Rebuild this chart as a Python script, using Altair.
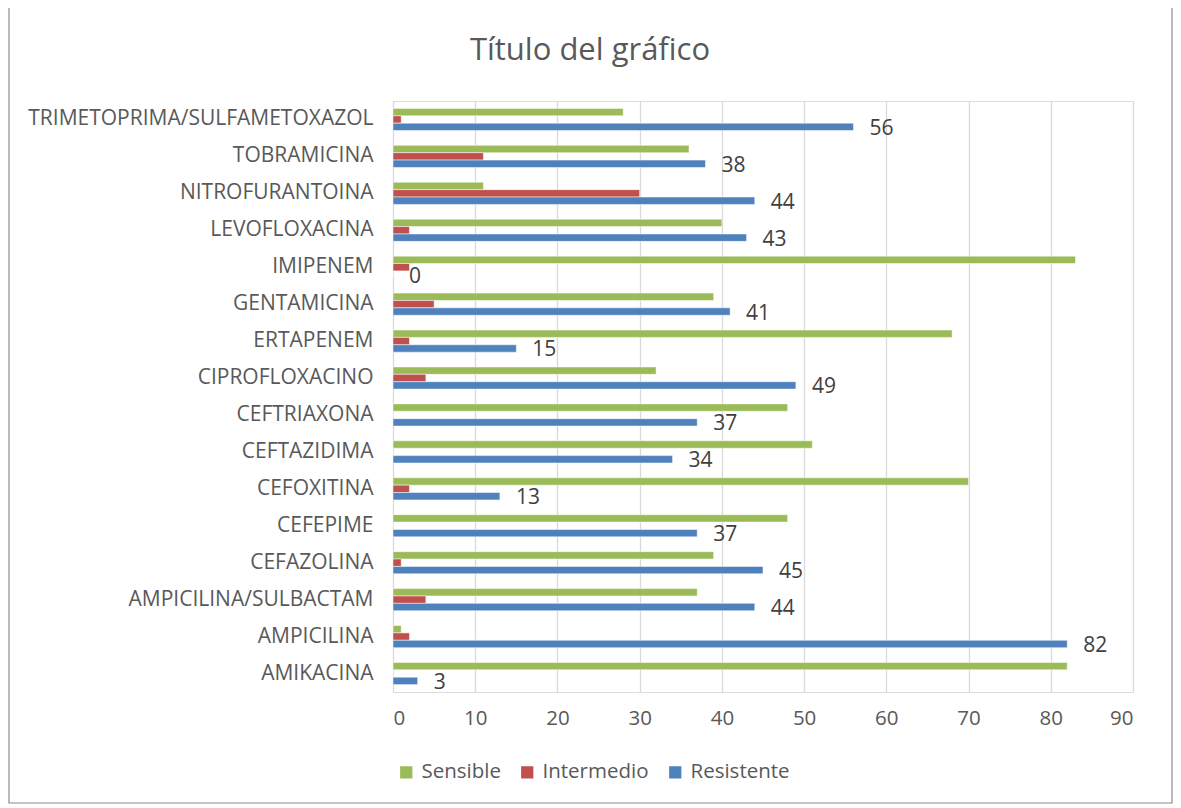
import altair as alt
import pandas as pd

categories = ["TRIMETOPRIMA/SULFAMETOXAZOL", "TOBRAMICINA", "NITROFURANTOINA", "LEVOFLOXACINA",
              "IMIPENEM", "GENTAMICINA", "ERTAPENEM", "CIPROFLOXACINO", "CEFTRIAXONA",
              "CEFTAZIDIMA", "CEFOXITINA", "CEFEPIME", "CEFAZOLINA", "AMPICILINA/SULBACTAM",
              "AMPICILINA", "AMIKACINA"]
sensible = [28, 36, 11, 40, 83, 39, 68, 32, 48, 51, 70, 48, 39, 37, 1, 82]
intermedio = [1, 11, 30, 2, 2, 5, 2, 4, 0, 0, 2, 0, 1, 4, 2, 0]
resistente = [56, 38, 44, 43, 0, 41, 15, 49, 37, 34, 13, 37, 45, 44, 82, 3]
series = ["Sensible", "Intermedio", "Resistente"]
colors = ["#9BBB59", "#C0504D", "#4F81BD"]
title_text = "Título del gráfico"

rows = []
for i, c in enumerate(categories):
    for s, vals in zip(series, [sensible, intermedio, resistente]):
        rows.append({"cat": c, "serie": s, "valor": vals[i]})
df = pd.DataFrame(rows)

FONT = "Open Sans"
W, H = 740, 591

y_enc = alt.Y("cat:N", sort=categories, title=None,
              scale=alt.Scale(paddingInner=0.4, paddingOuter=0.2),
              axis=alt.Axis(labelFont=FONT, labelFontSize=21, labelColor="#595959",
                            ticks=False, domain=False, labelPadding=20, grid=False,
                            labelLimit=400))
yoff = alt.YOffset("serie:N", sort=series, scale=alt.Scale(domain=series, paddingInner=0, paddingOuter=0))
x_enc = alt.X("valor:Q", title=None,
              scale=alt.Scale(domain=[0, 90], nice=False),
              axis=alt.Axis(values=list(range(0, 91, 10)), labelFont=FONT, labelFontSize=20.5,
                            labelColor="#595959", ticks=False, domain=False, labelPadding=16,
                            grid=True, gridColor="#D9D9D9", gridWidth=1.3))

bars = alt.Chart(df).mark_bar(stroke="white", strokeWidth=0.5).encode(
    x=x_enc, y=y_enc, yOffset=yoff,
    color=alt.Color("serie:N", sort=series,
                    scale=alt.Scale(domain=series, range=colors),
                    legend=alt.Legend(title=None, orient="none", direction="horizontal",
                                      legendX=3, legendY=661, symbolType="square",
                                      symbolSize=150, symbolStrokeWidth=0,
                                      labelFont=FONT, labelFontSize=20.5, labelColor="#595959",
                                      columnPadding=16, labelOffset=5))
)

labels = alt.Chart(df).transform_filter(alt.datum.serie == "Resistente").mark_text(
    align="left", baseline="middle", dx=16, dy=2, font=FONT, fontSize=21, color="#404040"
).encode(x="valor:Q", y=alt.Y("cat:N", sort=categories), yOffset=yoff, text="valor:Q")

border = alt.Chart(pd.DataFrame({"a": [0]})).mark_rect(
    fill=None, stroke="#8C8C8C", strokeWidth=1.2, clip=False
).encode(x=alt.value(-384), x2=alt.value(W + 39), y=alt.value(-94), y2=alt.value(H + 111))

title = alt.Chart(pd.DataFrame({"t": [title_text]})).mark_text(
    font=FONT, fontSize=31, color="#595959", align="center", baseline="middle"
).encode(text="t:N", x=alt.value(197), y=alt.value(-50))

chart = alt.layer(border, bars, labels, title).properties(
    width=W, height=H,
    autosize=alt.AutoSizeParams(type="none"),
    padding={"left": 385, "top": 93, "right": 40, "bottom": 112},
).configure_view(stroke=None).configure(background="white")

chart.save("out.html", embed_options={"renderer": "svg", "actions": False})
